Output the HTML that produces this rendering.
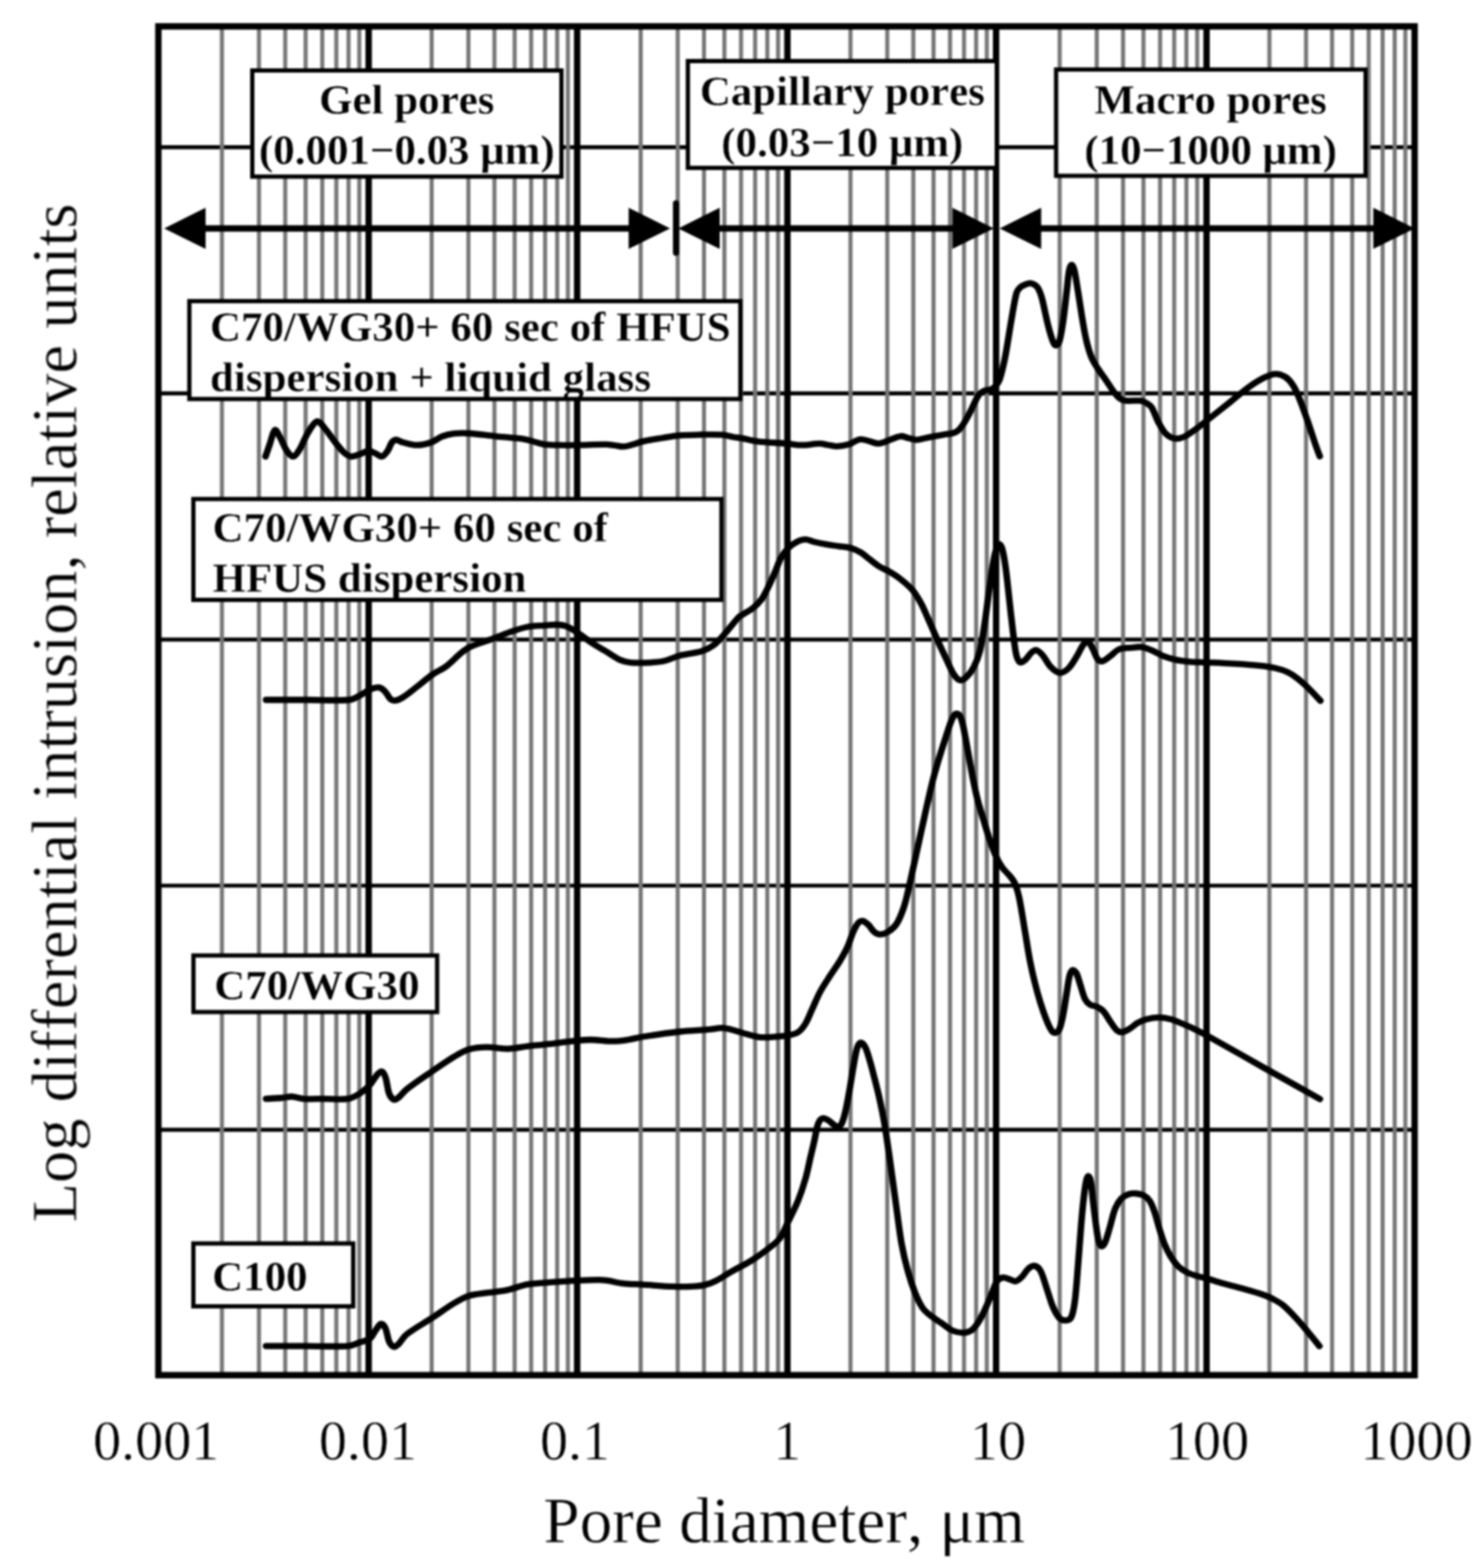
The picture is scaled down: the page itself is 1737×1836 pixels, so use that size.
<!DOCTYPE html>
<html lang="en"><head><meta charset="utf-8"><title>Pore size distribution</title>
<style>
html,body{margin:0;padding:0;background:#fff;}
body{width:1737px;height:1836px;overflow:hidden;}
svg{display:block;}
text{font-family:"Liberation Serif","DejaVu Serif",serif;fill:#000;font-kerning:none;font-variant-ligatures:none;text-rendering:geometricPrecision;}
.b{font-weight:bold;font-size:50.3px;stroke:#fff;stroke-width:0.35px;}
.t{font-size:65.8px;text-anchor:middle;stroke:#fff;stroke-width:0.5px;}
.ax{font-size:76.3px;text-anchor:middle;stroke:#fff;stroke-width:0.5px;}
.c{fill:none;stroke:#000;stroke-width:7.3;stroke-linecap:round;stroke-linejoin:round;}
.bx{fill:none;stroke:#000;stroke-width:5;}
</style></head><body>
<svg xmlns="http://www.w3.org/2000/svg" width="1737" height="1836" viewBox="0 0 1737 1836">
<rect x="0" y="0" width="1737" height="1836" fill="#fff"/>
<g filter="url(#soft)">
<g stroke="#000" stroke-width="4.6">
<line x1="185.5" y1="172.4" x2="1656.9" y2="172.4"/>
<line x1="185.5" y1="460.6" x2="1656.9" y2="460.6"/>
<line x1="185.5" y1="748.9" x2="1656.9" y2="748.9"/>
<line x1="185.5" y1="1037" x2="1656.9" y2="1037"/>
<line x1="185.5" y1="1322.9" x2="1656.9" y2="1322.9"/>
</g>
<path d="M259.94 30.9V1610.2M303.31 30.9V1610.2M334.09 30.9V1610.2M357.96 30.9V1610.2M377.46 30.9V1610.2M393.95 30.9V1610.2M408.23 30.9V1610.2M420.83 30.9V1610.2M505.61 30.9V1610.2M548.61 30.9V1610.2M579.12 30.9V1610.2M602.79 30.9V1610.2M622.12 30.9V1610.2M638.47 30.9V1610.2M652.63 30.9V1610.2M665.13 30.9V1610.2M750.44 30.9V1610.2M793.81 30.9V1610.2M824.59 30.9V1610.2M848.46 30.9V1610.2M867.96 30.9V1610.2M884.45 30.9V1610.2M898.73 30.9V1610.2M911.33 30.9V1610.2M996.17 30.9V1610.2M1039.21 30.9V1610.2M1069.74 30.9V1610.2M1093.43 30.9V1610.2M1112.78 30.9V1610.2M1129.14 30.9V1610.2M1143.32 30.9V1610.2M1155.82 30.9V1610.2M1241.2 30.9V1610.2M1284.61 30.9V1610.2M1315.41 30.9V1610.2M1339.3 30.9V1610.2M1358.81 30.9V1610.2M1375.32 30.9V1610.2M1389.61 30.9V1610.2M1402.22 30.9V1610.2M1486.86 30.9V1610.2M1529.77 30.9V1610.2M1560.22 30.9V1610.2M1583.84 30.9V1610.2M1603.14 30.9V1610.2M1619.45 30.9V1610.2M1633.58 30.9V1610.2M1646.05 30.9V1610.2" fill="none" stroke="#767676" stroke-width="4.8"/>
<g stroke="#000" stroke-width="7.5" fill="none">
<line x1="431.8" y1="30.9" x2="431.8" y2="1610.2"/>
<line x1="676" y1="30.9" x2="676" y2="1610.2"/>
<line x1="922.3" y1="30.9" x2="922.3" y2="1610.2"/>
<line x1="1166.7" y1="30.9" x2="1166.7" y2="1610.2"/>
<line x1="1413.2" y1="30.9" x2="1413.2" y2="1610.2"/>
<rect x="185.5" y="30.9" width="1471.4" height="1579.3"/>
</g>
<g transform="scale(1.05 1)">
<path class="c" d="M296.19 534.5C297.78 529.67 299.29 524.91 300.95 520C302.79 514.57 304.39 505.09 306.67 503.5C308.2 502.42 310.6 508.74 312.38 512C315.05 516.9 317 523.43 320 528C321.93 530.93 324.88 534.82 327.14 534.5C329.64 534.15 332.22 529.48 334.29 526C337.46 520.65 339.56 513.62 342.86 508C345.91 502.79 349.64 494.86 353.33 493.5C355.99 492.52 359.23 497.86 361.9 501C365.9 505.69 369.46 511.88 373.33 517C376.76 521.54 380.11 526.42 383.81 530C386.14 532.25 388.7 534.18 391.43 534.5C394.41 534.85 397.8 533.04 400.95 532C404.34 530.88 407.76 528.18 411.05 528C413.79 527.85 416.45 529.89 419.05 531C421.5 532.05 424.06 534.98 426.19 534.5C428.5 533.98 430.69 530.55 432.38 528C434.34 525.05 435.18 520.69 437.14 518C438.35 516.35 440.13 515 441.9 515C444.26 515 446.6 517.23 449.52 518C454.41 519.29 460.07 521.2 465.33 521.2C470.55 521.2 476.07 519.78 480.95 518C485.4 516.38 489.01 512.73 493.33 511C497.58 509.3 502.01 508.23 506.67 507.7C512.17 507.07 517.65 507.08 523.81 507.5C532.89 508.12 542.68 509.73 552.38 510.8C563.15 511.99 575.12 512.71 585.24 514.3C590.36 515.11 593.98 516.85 598.1 518C601.12 518.85 603.42 519.9 606.67 520.3C612 520.96 618.01 521.06 623.81 521.2C630.08 521.36 635.95 521.32 642.86 521.2C653.25 521.02 665.59 520.23 675.71 520.3C679.88 520.33 682.39 521.06 685.71 521.5C689 521.93 692.26 523.06 695.52 522.9C698.92 522.73 702.31 521.46 705.71 520.5C709.42 519.46 712.68 517.87 716.86 516.9C723.48 515.37 731.06 514.2 738.1 513C744.77 511.86 751.21 510.53 758 509.9C765.5 509.2 773.22 509.13 780.95 509C789.13 508.86 798.02 508.57 805.71 509.1C810.09 509.4 813.32 510.78 817.14 511.5C820.94 512.21 824.57 512.63 828.57 513.4C833.87 514.43 838.86 516.15 845.05 516.9C855.3 518.15 867.61 518.5 877.9 519.4C884.05 519.94 888.75 521.2 894.38 521.2C900.81 521.2 907.93 519.44 914.1 519.4C917.74 519.38 920.56 520.47 923.81 521C927.13 521.54 930.35 522.7 933.81 522.6C938.06 522.47 942.95 521.45 946.95 520.3C949.45 519.58 951.15 517.99 953.33 517C955.56 515.99 957.76 514.38 960.19 514.3C963.16 514.21 966.38 515.69 969.52 516.5C972.95 517.39 976.45 519.48 979.9 519.4C983.43 519.32 986.83 517.27 990.48 516C995.05 514.41 1000.05 511.39 1004.57 510.8C1007.67 510.39 1010.38 512.3 1013.33 513C1016.41 513.73 1019.54 515.1 1022.67 515.1C1025.89 515.1 1029.13 513.71 1032.38 513C1035.7 512.28 1039.04 511.47 1042.38 510.8C1045.71 510.14 1049.06 509.57 1052.38 509C1055.63 508.44 1059.09 508.19 1062.1 507.4C1064.17 506.86 1065.99 506.15 1067.62 505C1069.29 503.82 1070.67 502.11 1072 500.4C1073.52 498.45 1074.82 496.37 1076.19 494C1078.13 490.64 1080.13 486.84 1081.9 483.2C1083.62 479.68 1085.01 476.01 1086.67 472.5C1088.28 469.11 1089.68 465.32 1091.71 462.5C1093.17 460.48 1094.99 459.03 1097.14 458C1099.88 456.69 1103.67 456.72 1106.38 455.5C1108.12 454.72 1109.28 453.46 1110.48 452C1112.04 450.09 1113.63 447.99 1114.67 445.4C1116.17 441.66 1117.06 437.32 1118.1 433C1119.35 427.76 1120.4 423.18 1121.52 416.7C1123.83 403.35 1126.06 387.35 1128.38 373.5C1130.16 362.88 1131.6 352.38 1133.81 343.3C1134.52 340.38 1135.84 339.15 1137.14 337.5C1138.13 336.25 1139.18 335.33 1140.67 334.6C1143.12 333.4 1146.34 332.03 1148.95 331.7C1150.56 331.5 1152 332.28 1153.33 333C1154.73 333.75 1156.14 334.75 1157.14 336.1C1158.37 337.75 1159.19 339.87 1160 342C1161 344.64 1161.71 346.75 1162.57 350.4C1164.86 360.11 1166.98 372.12 1169.43 382.1C1171.1 388.92 1172.76 395.35 1174.95 400.8C1175.75 402.78 1177.32 404.62 1178.38 404.4C1179.61 404.15 1181.14 401.91 1181.81 399.4C1183.64 392.58 1184.76 384.63 1185.9 376.4C1187.49 364.97 1188.69 351.93 1190 340.4C1190.98 331.76 1191.42 323.29 1192.76 315.9C1193.26 313.19 1194.6 310.1 1195.52 310.1C1196.44 310.1 1197.67 313.2 1198.29 315.9C1199.96 323.3 1201.02 331.75 1202.38 340.4C1204.19 351.92 1205.94 364.95 1207.81 376.4C1209.15 384.62 1210.29 391.98 1212 399.4C1213.49 405.88 1215.17 412.28 1217.43 418.1C1219.26 422.82 1221.72 426.75 1224.29 431C1227.21 435.85 1230.8 440.63 1233.9 445.4C1236.74 449.76 1239.23 454.43 1242.1 458.4C1244.25 461.39 1246.39 464.29 1248.95 466.3C1250.97 467.89 1253.06 468.86 1255.81 469.2C1260.83 469.82 1267.27 468.68 1272.29 469.2C1274.7 469.45 1276.27 470.37 1278.1 471.5C1280.3 472.87 1282.74 474.01 1284.38 476.7C1287.6 481.98 1289.63 489.57 1292.67 495.4C1295.12 500.11 1297.54 504.95 1300.86 508.3C1303.48 510.95 1307.09 512.92 1310.48 513.4C1313.95 513.89 1317.96 512.81 1321.43 511.2C1325.71 509.21 1329.7 505.65 1333.71 502.6C1337.92 499.41 1341.45 496.34 1346.1 492.5C1354.24 485.77 1363.67 477.94 1372.1 470.9C1379.19 464.97 1385.72 458.82 1392.67 453.6C1398.51 449.22 1404.56 445.19 1410.48 442.1C1414.63 439.93 1418.78 437.92 1422.86 437.8C1426.56 437.69 1430.67 439.29 1433.81 441.4C1437.08 443.59 1439.8 447.09 1442.1 450.7C1444.82 454.99 1446.73 459.67 1448.86 465.1C1452.19 473.6 1455.37 483.21 1458.48 492.5C1461.79 502.41 1465.03 513.37 1468.1 522.7C1469.6 527.27 1470.83 530.37 1472.19 534.2"/>
<path class="c" d="M296.76 819.5C312.13 819.5 327.46 819.5 342.86 819.5C358.44 819.5 375.52 820.74 389.71 819.5C394.98 819.04 397.49 816.37 401.24 814.4C405.17 812.34 408.84 809.15 412.76 807.4C415.95 805.98 419.57 804.57 422.57 804.9C425.03 805.17 427.25 807.22 429.14 809.2C431.63 811.82 433.26 816.31 435.71 818.7C437.1 820.05 438.9 820.64 440.67 820.4C443.31 820.04 446.08 818.81 448.95 816.9C454.3 813.34 459.92 808.4 465.33 804C470.87 799.5 476.13 794.37 481.81 790.2C487.11 786.31 493.09 783.89 498.29 779.8C504.04 775.26 509.29 768.88 514.67 764.3C518.05 761.42 520.53 759.31 524.57 757.4C531.52 754.11 540.04 751.66 547.62 748.7C554.8 745.9 561.77 742.64 568.86 740.1C575.42 737.74 581.98 735.36 588.57 734C594.58 732.76 600.77 732.75 606.67 732.3C611.72 731.92 616.72 731.33 621.43 731.5C624.95 731.63 628.08 731.86 631.33 733.2C635.76 735.02 640.14 738.06 644.48 741C649.48 744.39 654.21 748.67 659.33 752.2C664.62 755.84 670.25 759.06 675.71 762.5C681.2 765.96 686.69 770.29 692.19 772.9C696.02 774.72 699.43 775.42 703.71 775.8C710.38 776.39 718.15 776.16 725.05 775.8C730.76 775.5 736.14 775.12 741.52 773.8C747.12 772.42 752.07 769.33 758 767.7C765.79 765.56 775.11 764.92 782.67 762.5C787.71 760.88 791.86 758.64 795.81 755.6C800.08 752.31 803.46 748.04 807.33 743.5C812.79 737.11 818.45 728.83 823.81 722.8C825.56 720.83 826.8 720.74 828.67 719.5C832.07 717.24 836.26 715.13 839.62 712.3C843.11 709.36 846.53 705.99 849.24 702.2C852.02 698.29 853.89 693.84 856.1 689.2C858.91 683.27 861.68 676.7 864.29 670.5C866.7 664.74 868.4 658.56 871.14 653.3C873.41 648.96 876.2 645.01 879.33 641.7C882.13 638.75 885.54 636.27 888.95 634.5C891.96 632.94 895.37 631.7 898.57 631.7C901.78 631.7 904.8 633.67 908.19 634.5C912.54 635.57 917.25 636.55 921.81 637.4C926.36 638.25 930.95 638.88 935.52 639.6C940.09 640.32 944.9 640.43 949.24 641.7C953.12 642.83 956.79 644.65 960.19 646.8C963.64 648.98 966.53 652.07 969.81 654.7C973.38 657.57 976.96 660.8 980.76 663.3C984.26 665.6 988.1 666.87 991.71 669.1C995.88 671.67 1000.1 674.39 1004.1 677.7C1008.8 681.59 1013.87 685.84 1017.81 690.7C1021.65 695.44 1024.56 700.95 1027.43 706.5C1030.5 712.45 1032.87 718.77 1035.62 725.2C1038.81 732.67 1041.93 740.5 1045.24 748.2C1048.73 756.33 1052.45 764.87 1056 772.7C1058.77 778.8 1061.05 785.03 1064.19 790C1066.06 792.96 1068.6 795.98 1071.05 796.5C1073.17 796.95 1075.94 794.89 1077.9 792.9C1080.95 789.82 1083.89 785.73 1086.1 781.3C1088.91 775.63 1091.28 769.58 1092.95 762.6C1095.41 752.31 1096.81 740.98 1098.48 729.5C1100.49 715.58 1102.05 700.46 1104 686.4C1105.7 674.09 1107.12 661.38 1109.43 650.4C1110.55 645.05 1112.45 639.33 1114.29 637.4C1115.21 636.43 1117.08 639.38 1117.71 641.7C1119.58 648.51 1120.67 655.99 1121.81 664.8C1123.84 680.46 1125.45 698.93 1127.24 715.1C1128.63 727.69 1129.89 739.86 1131.33 751.1C1132.17 757.62 1132.64 763.21 1134.1 768.4C1134.93 771.38 1136.43 774.81 1138.19 775.6C1139.64 776.25 1142.07 774.23 1143.71 772.7C1146.2 770.39 1148.1 766.41 1150.57 764.1C1152.19 762.58 1154.23 760.78 1156 761.2C1158.33 761.75 1160.76 764.44 1162.86 767C1166.25 771.14 1168.82 777.35 1172.48 781.3C1175.23 784.28 1178.81 787.54 1182.1 787.8C1185.23 788.04 1189.05 785.5 1191.71 782.8C1195.43 779.04 1198.34 773.25 1201.24 768.4C1203.8 764.12 1205.49 759.05 1208.1 755.4C1209.61 753.28 1212.04 750.47 1213.62 751.1C1215.69 751.93 1217.4 756.66 1219.05 759.8C1221.05 763.62 1222.2 768.94 1224.57 772C1225.89 773.7 1228.25 774.59 1230.1 774.1C1232.82 773.39 1235.56 770.48 1238.29 768.4C1241.5 765.95 1244.18 762.08 1247.9 760.5C1252.06 758.74 1257.34 758.92 1261.9 758.4C1265.78 757.96 1269.52 757.11 1273.24 757.6C1277.11 758.11 1280.89 759.77 1284.67 761.4C1288.99 763.27 1293.07 766.26 1297.52 768.1C1302.11 769.99 1306.93 771.51 1311.81 772.6C1316.9 773.74 1322.08 774.33 1327.43 774.8C1333.48 775.33 1339.35 775.28 1346 775.6C1355.51 776.05 1366 776.47 1375.9 777.1C1385.46 777.71 1395.37 778.33 1404.38 779.3C1410.58 779.97 1416 780.68 1421.52 782C1426.48 783.18 1431.35 784.67 1435.81 786.8C1439.92 788.77 1443.61 791.43 1447.24 794.3C1451.19 797.43 1454.8 800.94 1458.57 804.8C1463.34 809.68 1468.1 815.27 1472.86 820.5"/>
<path class="c" d="M296.76 1286.6C302.6 1286.23 308.71 1286 314.29 1285.5C318.3 1285.14 321.71 1283.83 325.52 1284C329.84 1284.19 333.84 1286.26 338.67 1286.6C345.97 1287.12 354.04 1286.6 361.9 1286.6C370.48 1286.6 380.02 1287.84 388 1286.6C393.13 1285.8 397.18 1283.19 401.24 1280.5C405.44 1277.72 409.39 1274.03 412.76 1270.2C415.96 1266.56 418.08 1261.51 420.95 1258.1C422.46 1256.31 424.54 1254.09 425.9 1254.6C427.56 1255.22 429.07 1258.55 430 1261.5C431.8 1267.18 432.14 1274.91 434.1 1280.5C435.16 1283.54 437.12 1286.39 439.05 1287.4C440.42 1288.12 442.4 1287 444 1285.7C447.33 1283 449.57 1278.89 453.81 1275.4C462.17 1268.52 472.55 1261.28 481.81 1254.6C490.1 1248.62 498.41 1242.48 506.48 1237.4C512.13 1233.84 517.09 1230.53 522.95 1228.7C529.15 1226.76 536.11 1226.23 542.67 1226.1C549.09 1225.97 555.94 1227.49 561.9 1227.9C564.67 1228.09 565.93 1228.22 568.86 1227.9C576.47 1227.06 585.29 1225.42 593.52 1224.4C601.73 1223.38 609.91 1222.78 618.19 1221.8C626.89 1220.78 636.16 1219.27 644.48 1218.4C649.87 1217.84 653.98 1217.39 659.33 1217.5C667.16 1217.66 676.12 1219.2 684 1219.2C689.81 1219.2 694.95 1218.36 700.38 1217.5C705.9 1216.63 710.39 1215.07 716.86 1214C729.6 1211.9 744.6 1209.56 758 1208C769.26 1206.69 780.61 1206.32 790.86 1205.4C796.52 1204.89 800.85 1203.51 805.71 1203.7C810.25 1203.88 814.63 1205.34 819.05 1206.5C823.64 1207.71 828.17 1209.48 832.76 1210.8C837.31 1212.11 841.85 1213.79 846.48 1214.4C851 1214.99 855.41 1214.72 860.19 1214.4C866.36 1213.99 873.36 1213.35 879.33 1212.2C883.39 1211.42 887.2 1210.8 890.29 1208.6C893.61 1206.23 896.27 1202.52 898.57 1198.5C901.76 1192.92 904.03 1186.03 906.76 1179.8C909.49 1173.57 911.83 1167.18 914.95 1161.1C918.24 1154.71 922.25 1148.53 926 1142.4C929.59 1136.53 933.59 1130.91 936.95 1125.1C939.97 1119.88 942.74 1114.82 945.14 1109.3C947.75 1103.32 949.52 1096.36 952 1090.6C953.65 1086.76 955.33 1083.1 957.52 1080.5C958.76 1079.03 960.71 1078.08 962.29 1078.4C964.36 1078.82 966.6 1080.84 968.48 1082.7C970.95 1085.14 972.79 1089.06 975.33 1091.3C977.14 1092.89 979.31 1094.2 981.52 1094.2C984.33 1094.2 987.7 1093.07 990.38 1091.3C993.85 1089.01 997.52 1086.02 1000 1082C1003.45 1076.42 1005.98 1069.27 1008.19 1062.5C1010.55 1055.27 1012.02 1047.46 1013.71 1040C1015.32 1032.96 1016.65 1025.92 1018.1 1019C1019.44 1012.58 1020.55 1007.37 1022.1 1000C1025.09 985.67 1028.52 968.89 1031.71 953.9C1034.45 941.06 1037.06 928.45 1039.9 916.5C1042.08 907.35 1044.38 899.08 1046.76 890.6C1048.95 882.78 1051.28 875.19 1053.62 867.6C1055.86 860.33 1058.09 852.61 1060.48 846C1061.74 842.51 1063 839.69 1064.57 837.3C1065.28 836.22 1066.4 835.48 1067.33 835.6C1068.47 835.75 1070.01 836.64 1070.76 838.1C1072.3 841.08 1073.24 844.5 1074.19 848.9C1076.19 858.17 1077.82 868.97 1079.62 879.1C1081.47 889.57 1083.19 900.42 1085.14 910.7C1086.84 919.62 1088.49 928.16 1090.57 936.7C1092.58 944.96 1095.1 953.04 1097.43 961.1C1099.67 968.84 1101.85 976.66 1104.29 984.1C1106.42 990.6 1108.59 997.01 1111.14 1002.9C1113.16 1007.57 1115.36 1011.86 1118 1015.8C1120.41 1019.39 1123.77 1022.21 1126.29 1025.5C1128.4 1028.27 1130.48 1030.65 1131.9 1034C1133.94 1038.81 1135.38 1043.69 1136.67 1050C1139.12 1062.05 1141.05 1076.25 1143.14 1089.1C1145.05 1100.79 1146.65 1112.49 1148.67 1123.6C1150.3 1132.62 1152.06 1140.91 1154.1 1149.5C1156.15 1158.18 1158.47 1167.07 1160.95 1175.4C1163.04 1182.43 1165.36 1189.32 1167.81 1195.6C1169.48 1199.89 1171.17 1204.01 1173.33 1207.1C1174.37 1208.58 1176.14 1209.52 1177.43 1209.3C1178.87 1209.05 1180.68 1207.7 1181.52 1205.7C1183.41 1201.2 1184.49 1195.56 1185.62 1189.8C1187.22 1181.63 1188.38 1172.35 1189.71 1163.9C1190.88 1156.52 1191.56 1148.78 1193.14 1142.3C1193.84 1139.45 1195.19 1136.41 1196.57 1135.9C1197.7 1135.48 1199.73 1137.63 1200.67 1139.5C1202.49 1143.13 1203.43 1147.91 1204.86 1152.4C1206.63 1157.98 1207.97 1164.66 1210.29 1169.7C1211.62 1172.6 1213.56 1174.67 1215.81 1176.2C1218.13 1177.77 1221.47 1177.67 1224 1179C1226.48 1180.3 1228.87 1181.72 1230.86 1184.1C1233.89 1187.72 1236.29 1192.91 1239.05 1197C1241.3 1200.34 1243.29 1204.09 1245.9 1206.4C1247.64 1207.93 1250.01 1208.73 1252.1 1208.5C1254.59 1208.23 1257.14 1206.46 1259.62 1204.9C1262.86 1202.86 1265.88 1199.7 1269.24 1197.7C1272.3 1195.87 1275.38 1194.35 1278.86 1193.4C1283.16 1192.22 1288 1191.3 1292.57 1191.3C1297.14 1191.3 1301.87 1192.18 1306.29 1193.4C1310.54 1194.58 1314.5 1196.72 1318.57 1198.5C1322.72 1200.32 1326.78 1202.1 1330.95 1204.2C1335.79 1206.63 1339.18 1208.34 1345.62 1212.1C1365.37 1223.61 1388.25 1237.45 1409.52 1250C1430.47 1262.35 1451.37 1274.53 1472.29 1286.8"/>
<path class="c" d="M296.76 1576.1C312.13 1576.1 327.53 1576.1 342.86 1576.1C357.94 1576.1 374.22 1577.11 388 1576.1C393.68 1575.68 396.92 1573.32 401.24 1571.8C405.18 1570.42 409.7 1569.88 412.76 1567.4C415.74 1564.98 417.05 1560.29 419.33 1557.1C421.15 1554.56 423.12 1550.51 425.05 1550.2C426.68 1549.94 428.92 1552.93 430 1555.4C431.94 1559.83 432.2 1566.39 434.1 1570.9C435.21 1573.56 437.2 1576.25 439.05 1576.9C440.5 1577.41 442.43 1575.95 444 1574.4C447.35 1571.08 449.32 1565.99 453.81 1562.3C461.92 1555.62 472.65 1549.61 481.81 1543.3C490.2 1537.51 498.4 1531.08 506.48 1526C512.12 1522.45 517.11 1519.35 522.95 1517.4C529.17 1515.32 536.1 1514.93 542.67 1513.9C549.08 1512.89 555.97 1512.23 561.9 1511.3C564.7 1510.86 566.09 1510.58 568.86 1509.8C574.98 1508.08 581.48 1505.04 588.57 1503.8C597.93 1502.17 608.45 1501.97 618.19 1501.2C627.09 1500.5 635.84 1499.85 644.48 1499.4C652.29 1498.99 660.35 1498.6 667.52 1498.6C671.34 1498.6 673.82 1498.85 677.43 1499.4C683.16 1500.28 689.32 1502.16 695.52 1502.9C702.46 1503.73 709.27 1503.61 716.86 1504.1C727.37 1504.78 739.29 1505.95 749.81 1506.4C757.39 1506.72 764.31 1506.74 771.14 1506.4C776.38 1506.14 781.22 1505.79 786 1504.6C790.56 1503.46 794.78 1501.68 799.14 1499.4C804.65 1496.52 809.83 1492.56 815.62 1489.1C822.82 1484.79 830.92 1480.78 838.1 1476.1C844.77 1471.75 851.24 1466.86 857.14 1462C861.81 1458.16 866.4 1454.87 869.81 1450C873.8 1444.3 876.18 1437.11 879.33 1430.3C883.01 1422.37 887.09 1414.17 890.29 1405.8C893.5 1397.37 896.21 1388.56 898.57 1379.9C900.79 1371.76 902.24 1363.33 904 1355.4C905.44 1348.93 906.88 1342.88 908.19 1336.7C909.42 1330.92 910.3 1324.78 911.62 1319.5C912.33 1316.65 912.99 1314.23 914.29 1312.3C915.25 1310.87 916.87 1309.4 918.38 1309.4C920.3 1309.4 922.6 1311 924.57 1312.3C926.95 1313.87 929.13 1316.49 931.43 1318C932.78 1318.89 934.38 1320.09 935.52 1319.5C937.15 1318.66 938.74 1316.24 939.71 1313.7C941.5 1309.04 942.63 1303.51 943.81 1297.9C945.36 1290.54 946.6 1282.63 947.9 1274.8C949.33 1266.29 950.55 1257.34 952 1248.9C953.28 1241.5 954.22 1233.71 956.1 1227.3C956.95 1224.38 958.66 1221.14 960.19 1220.9C961.64 1220.67 963.89 1223.56 965.05 1225.9C967.09 1230.03 968.34 1235.16 969.81 1240.3C971.77 1247.16 973.55 1254.63 975.33 1261.9C977.2 1269.49 979.08 1276.96 980.76 1284.9C982.73 1294.23 984.63 1303.71 986.29 1313.7C988.28 1325.78 990 1338.77 991.71 1351.1C993.3 1362.54 994.72 1373.74 996.19 1385C997.64 1396.04 998.98 1406.78 1000.48 1418C1002.15 1430.55 1003.56 1443.88 1005.71 1456.3C1007.6 1467.18 1009.91 1477.69 1012.57 1487.9C1014.92 1496.89 1017.67 1505.75 1020.76 1513.9C1023.13 1520.15 1025.75 1526.07 1028.95 1531.1C1031.24 1534.7 1034.06 1537.09 1037.24 1539.8C1041.39 1543.33 1046.49 1546.56 1050.95 1549.8C1054.71 1552.53 1057.95 1555.86 1061.9 1557.7C1065.7 1559.46 1070.23 1560.6 1074.19 1560.6C1077.53 1560.6 1081.13 1559.75 1083.81 1557.7C1087.1 1555.18 1089.68 1551 1092.1 1546.9C1095.18 1541.66 1097.75 1535.51 1100.29 1529.7C1102.77 1524.01 1104.88 1517.97 1107.14 1512.4C1108.97 1507.9 1110.1 1502.82 1112.57 1499.5C1114.19 1497.32 1117.08 1496.16 1119.43 1495.9C1121.65 1495.66 1124 1497.28 1126.29 1498C1128.57 1498.72 1130.99 1500.65 1133.14 1500.2C1135.56 1499.69 1137.96 1497.24 1140 1495.1C1142.53 1492.44 1144.25 1488.25 1146.86 1485.8C1148.82 1483.95 1151.54 1481.87 1153.71 1482.2C1156.11 1482.57 1158.99 1484.91 1160.57 1487.9C1163.56 1493.55 1165.19 1501.29 1167.43 1508.1C1169.77 1515.22 1171.63 1523.03 1174.29 1529.7C1176.2 1534.53 1178.35 1539.23 1181.14 1542.6C1182.92 1544.73 1185.71 1546.2 1188 1546.2C1190.29 1546.2 1193.61 1545.15 1194.86 1542.6C1197.26 1537.71 1198.04 1531.18 1198.95 1523.9C1200.65 1510.31 1201.5 1494.81 1202.67 1480C1203.91 1464.18 1204.94 1447.32 1206.19 1432C1207.1 1420.79 1208.01 1410.39 1209.14 1400.4C1209.91 1393.62 1210.68 1387.32 1211.9 1381.7C1212.36 1379.62 1213.47 1377.09 1214.19 1377.3C1215.05 1377.55 1216.2 1380.42 1216.67 1383.1C1217.95 1390.52 1218.46 1399.26 1219.43 1407.6C1220.52 1417.02 1221.63 1427.29 1222.86 1436.4C1223.69 1442.62 1224.26 1448.46 1225.62 1453.6C1226.29 1456.13 1227.73 1459.4 1228.95 1459.4C1230.24 1459.4 1232.11 1456.24 1233.14 1453.6C1235.31 1448.07 1236.79 1441.2 1238.57 1434.9C1240.44 1428.27 1241.7 1420.91 1244.1 1414.8C1245.83 1410.38 1248.16 1406.38 1250.95 1403.3C1253.17 1400.85 1256.26 1399.22 1259.14 1398.2C1261.72 1397.29 1264.63 1397.25 1267.33 1397.5C1270.12 1397.75 1273.16 1398.3 1275.62 1399.7C1278.21 1401.17 1280.72 1403.33 1282.48 1406.1C1284.82 1409.8 1286.34 1414.38 1287.9 1419.1C1289.99 1425.41 1291.49 1432.65 1293.43 1439.2C1295.18 1445.11 1296.81 1450.96 1298.95 1456.5C1300.9 1461.53 1303.11 1466.41 1305.71 1470.9C1308.12 1475.04 1310.85 1479.11 1314 1482.4C1316.82 1485.34 1320.18 1487.68 1323.62 1489.6C1327.03 1491.51 1330.87 1492.68 1334.57 1493.9C1338.17 1495.08 1341.62 1495.62 1345.52 1496.8C1351.21 1498.52 1357.25 1500.78 1363.33 1502.6C1370.05 1504.61 1376.86 1506.23 1383.9 1508.3C1392.26 1510.76 1401.67 1513.47 1409.52 1516.2C1413.39 1517.54 1415.86 1518.72 1419.05 1520.5C1423.1 1522.76 1427.36 1524.94 1431.24 1528.3C1436.54 1532.9 1441.7 1538.89 1446.57 1544.4C1451.19 1549.62 1455.43 1555.1 1459.71 1560.5C1463.84 1565.7 1467.78 1570.97 1471.81 1576.2"/>
</g>
<g fill="#000">
<line x1="238.8" y1="267.4" x2="738.3" y2="267.4" stroke="#000" stroke-width="7.5"/>
<polygon points="192.3,267.4 240.8,243.2 240.8,291.6"/>
<polygon points="784.8,267.4 736.3,243.2 736.3,291.6"/>
<line x1="841" y1="267.4" x2="1117.5" y2="267.4" stroke="#000" stroke-width="7.5"/>
<polygon points="794.5,267.4 843,243.2 843,291.6"/>
<polygon points="1164,267.4 1115.5,243.2 1115.5,291.6"/>
<line x1="1217.5" y1="267.4" x2="1610.5" y2="267.4" stroke="#000" stroke-width="7.5"/>
<polygon points="1171,267.4 1219.5,243.2 1219.5,291.6"/>
<polygon points="1657,267.4 1608.5,243.2 1608.5,291.6"/>
<line x1="791.8" y1="238" x2="791.8" y2="296" stroke="#000" stroke-width="7.2" stroke-linecap="round"/>
</g>
<rect fill="#fff" x="295.5" y="82.5" width="362.1" height="124.3"/>
<text class="b" transform="translate(476.5 133) scale(1 0.97)" text-anchor="middle">Gel pores</text>
<text class="b" transform="translate(476.5 192.3) scale(1 0.97)" text-anchor="middle">(0.001−0.03 μm)</text>
<rect fill="#fff" x="805.7" y="71.5" width="361.8" height="125.1"/>
<text class="b" transform="translate(986.6 123) scale(1 0.97)" text-anchor="middle">Capillary pores</text>
<text class="b" transform="translate(986.6 182.7) scale(1 0.97)" text-anchor="middle">(0.03−10 μm)</text>
<rect fill="#fff" x="1237" y="81.4" width="362.5" height="124.5"/>
<text class="b" transform="translate(1418 133.2) scale(1 0.97)" text-anchor="middle">Macro pores</text>
<text class="b" transform="translate(1418 191.8) scale(1 0.97)" text-anchor="middle">(10−1000 μm)</text>
<rect fill="#fff" x="221.8" y="352.6" width="645.4" height="114.6"/>
<text class="b" transform="translate(246 399) scale(1 0.97)">C70/WG30+ 60 sec of HFUS</text>
<text class="b" transform="translate(246 458) scale(1 0.97)">dispersion + liquid glass</text>
<rect fill="#fff" x="226.5" y="584.3" width="618.5" height="118.1"/>
<text class="b" transform="translate(249 633.7) scale(1 0.97)">C70/WG30+ 60 sec of</text>
<text class="b" transform="translate(249 693.3) scale(1 0.97)">HFUS dispersion</text>
<rect fill="#fff" x="226.6" y="1118.8" width="285.4" height="66.2"/>
<text class="b" transform="translate(251 1170.2) scale(1 0.97)">C70/WG30</text>
<rect fill="#fff" x="226.5" y="1456" width="187.2" height="73.6"/>
<text class="b" transform="translate(248.5 1511) scale(1 0.97)">C100</text>
<rect class="bx" x="295.5" y="82.5" width="362.1" height="124.3"/>
<rect class="bx" x="805.7" y="71.5" width="361.8" height="125.1"/>
<rect class="bx" x="1237" y="81.4" width="362.5" height="124.5"/>
<rect class="bx" x="221.8" y="352.6" width="645.4" height="114.6"/>
<rect class="bx" x="226.5" y="584.3" width="618.5" height="118.1"/>
<rect class="bx" x="226.6" y="1118.8" width="285.4" height="66.2"/>
<rect class="bx" x="226.5" y="1456" width="187.2" height="73.6"/>
</g>
<g filter="url(#soft)">
<text class="t" x="183" y="1709.3">0.001</text>
<text class="t" x="431" y="1709.3">0.01</text>
<text class="t" x="673.5" y="1709.3">0.1</text>
<text class="t" x="922.3" y="1709.3">1</text>
<text class="t" x="1169" y="1709.3">10</text>
<text class="t" x="1413.8" y="1709.3">100</text>
<text class="t" x="1659" y="1709.3">1000</text>
<text class="ax" x="918.6" y="1806">Pore diameter, μm</text>
<text class="ax" style="font-size:75.5px" transform="translate(89.3 834.7) rotate(-90)" x="0" y="0">Log differential intrusion, relative units</text>
</g>
<defs><filter id="soft" x="-2%" y="-2%" width="104%" height="104%" color-interpolation-filters="sRGB"><feGaussianBlur in="SourceGraphic" stdDeviation="1" result="bl"/><feComposite in="SourceGraphic" in2="bl" operator="arithmetic" k1="0" k2="0.00" k3="1.00" k4="0"/></filter></defs>
</svg>
</body></html>
